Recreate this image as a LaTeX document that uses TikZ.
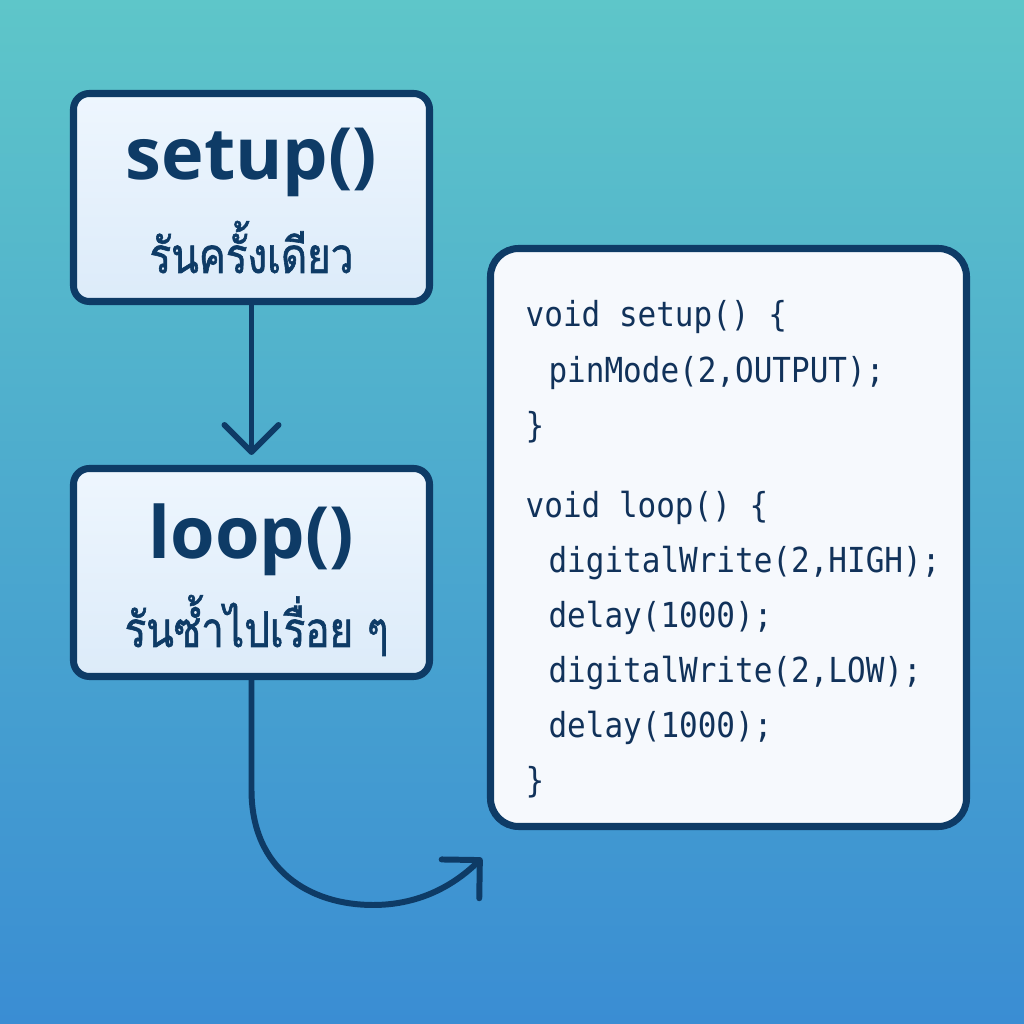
\documentclass[tikz,border=0pt]{standalone}
\usepackage{fontspec}
\usepackage{tikz}
\usetikzlibrary{arrows.meta}
\setmonofont[FakeStretch=0.9]{DejaVu Sans Mono}
\newfontfamily\thaifont[Script=Thai, FakeStretch=0.82, FakeBold=1.2]{Loma}
\newfontfamily\headfont{Open Sans}

\definecolor{navy}{HTML}{0E3B66}
\definecolor{codeink}{HTML}{11325A}
\definecolor{bgtop}{HTML}{5EC6C9}
\definecolor{bgbot}{HTML}{3A8DD3}
\definecolor{boxtop}{HTML}{EEF6FE}
\definecolor{boxbot}{HTML}{DCEBF9}
\definecolor{paper}{HTML}{F6F9FD}

\begin{document}
\begin{tikzpicture}
    % Styles
    \tikzstyle{stage} = [rectangle, rounded corners=4.5pt, draw=navy, line width=2pt, minimum width=3.56cm, minimum height=2.08cm, top color=boxtop, bottom color=boxbot]
    \tikzstyle{codebox} = [rectangle, rounded corners=8pt, draw=navy, line width=2pt, minimum width=4.76cm, minimum height=5.78cm, fill=paper]
    \tikzstyle{fname} = [anchor=base, text=navy, font=\headfont\bfseries\fontsize{20.5}{24}\selectfont]
    \tikzstyle{thainote} = [anchor=base, text=navy, font=\thaifont\fontsize{14}{17}\selectfont]
    \tikzstyle{code} = [anchor=north west, inner sep=0pt, align=left, text=codeink, font=\ttfamily\fontsize{9.8}{15.7}\selectfont]
    \tikzstyle{flow} = [draw=navy, line width=1.7pt, line cap=round, -{Straight Barb[length=2.7mm, width=5.4mm, line cap=round, line join=round]}]

    % Background
    \useasboundingbox (0,0) rectangle (10.24,10.24);
    \shade[top color=bgtop, bottom color=bgbot] (0,0) rectangle (10.24,10.24);

    % Nodes
    \node[stage] (setup) at (2.515, 8.265) {};
    \node[stage] (loop) at (2.515, 4.515) {};
    \node[codebox] (sketch) at (7.285, 4.865) {};

    \node[fname] (setupT) at ([yshift=-9.0mm]setup.north) {setup()};
    \node[thainote] (setupN) at ([yshift=-18.3mm]setup.north) {รันครั้งเดียว};
    \node[fname] (loopT) at ([yshift=-9.4mm]loop.north) {loop()};
    \node[thainote] (loopN) at ([xshift=0.5mm, yshift=-18.2mm]loop.north) {รันซ้ำไปเรื่อย ๆ};

    \node[code] (sketchT) at (5.25, 7.24) {void setup() \{\\
        \hspace*{6.5pt}pinMode(2,OUTPUT);\\
        \}\\[7pt]
        void loop() \{\\
        \hspace*{6.5pt}digitalWrite(2,HIGH);\\
        \hspace*{6.5pt}delay(1000);\\
        \hspace*{6.5pt}digitalWrite(2,LOW);\\
        \hspace*{6.5pt}delay(1000);\\
        \}};

    % Arrows
    \coordinate (back) at (4.82, 1.66);
    \draw[flow, shorten >=0.1cm] (setup.south) -- (loop.north);
    \draw[flow] (loop.south) -- ++(0,-1.1) .. controls +(0,-0.8) and (3.1, 1.19) .. (3.73, 1.19)
        .. controls (4.15, 1.19) and (4.5, 1.35) .. (back);
\end{tikzpicture}
\end{document}
